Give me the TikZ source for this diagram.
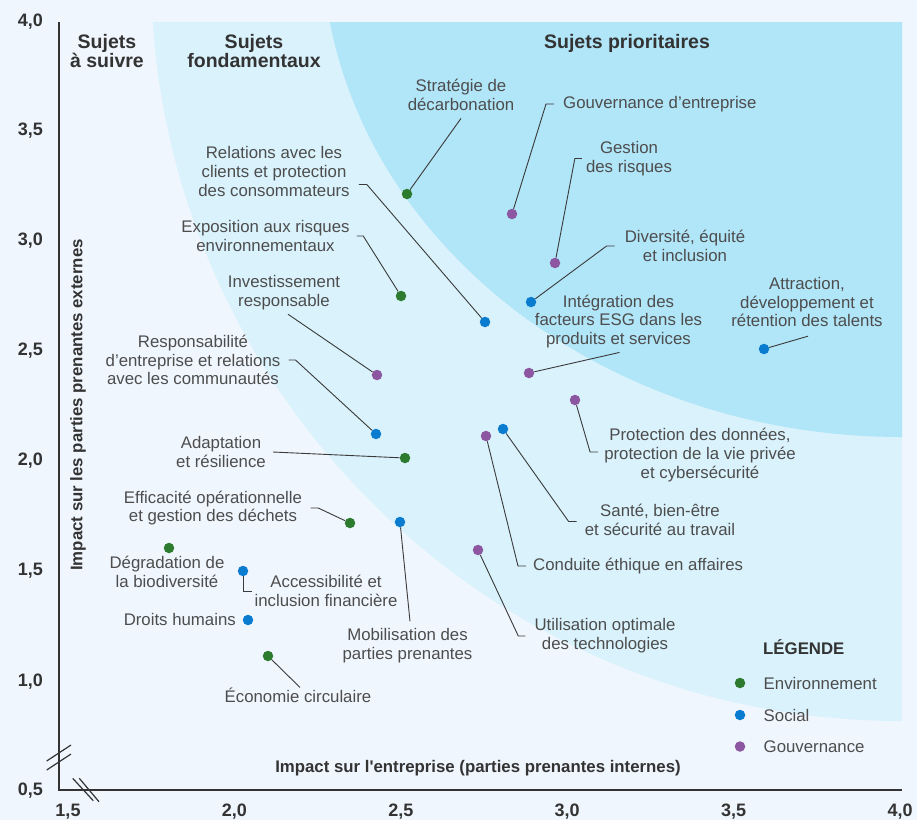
\documentclass[tikz,border=0pt]{standalone}
\usepackage{fontspec}
\setmainfont{Liberation Sans}

\definecolor{bgpaper}{HTML}{F0F6FE}
\definecolor{bandlight}{HTML}{D9F2FC}
\definecolor{banddark}{HTML}{B1E5F8}
\definecolor{envgreen}{HTML}{2D7B2F}
\definecolor{socblue}{HTML}{0A7CCF}
\definecolor{govpurple}{HTML}{8C57A0}
\definecolor{txtgray}{HTML}{4D4D4D}
\definecolor{headgray}{HTML}{333333}
\definecolor{linegray}{HTML}{3A3A3A}

\newcommand{\topicfont}{\fontsize{16.8}{18.8}\selectfont}
\newcommand{\headfont}{\bfseries\fontsize{19.5}{19.5}\selectfont}
\newcommand{\tickfont}{\bfseries\fontsize{18}{18}\selectfont}
\newcommand{\axtitlefont}{\bfseries\fontsize{16.8}{16.8}\selectfont}

\tikzset{
	topicdot/.style={circle, fill=#1, inner sep=0pt, minimum size=10.5pt},
	topic/.style={font=\topicfont, text=txtgray, align=center, inner sep=0pt},
	leader/.style={draw=linegray, line width=0.9pt},
	heading/.style={font=\headfont, text=headgray, align=center, inner sep=0pt},
	ticklabel/.style={font=\tickfont, text=headgray, inner sep=0pt},
	axtitle/.style={font=\axtitlefont, text=headgray, inner sep=0pt},
	axisline/.style={draw=headgray, line width=1.2pt},
}

\begin{document}
\begin{tikzpicture}[x=1pt, y=-1pt]
	\useasboundingbox (0,0) rectangle (917,820);
	\fill[bgpaper] (0,0) rectangle (917,820);
	
	% zones
	\begin{scope}
		\clip (59,22) rectangle (902,790);
		\fill[bandlight] (901,-29) circle[radius=750];
		\fill[banddark] (902,-60) ellipse[x radius=580, y radius=497];
	\end{scope}
	
	\node[heading] (suivre) at (107,51) {Sujets\\à suivre};
	\node[heading] (fondam) at (254,51) {Sujets\\fondamentaux};
	\node[heading] (priorit) at (627,43) {Sujets prioritaires};
	
	% axes
	\draw[axisline] (59,22) -- (59,790) -- (902,790);
	\draw[axisline] (46.7,761) -- (71,745);
	\draw[axisline] (46.7,770) -- (71,754);
	\draw[axisline] (72.7,778.3) -- (93.3,800.7);
	\draw[axisline] (79.3,778.3) -- (99,801.7);
	
	\foreach \a/\b/\y in {4/0/22, 3/5/131, 3/0/241, 2/5/351, 2/0/461, 1/5/571, 1/0/682, 0/5/791}
		\node[ticklabel, anchor=east] at (43,\y) {\a,\b};
	\foreach \a/\b/\x in {1/5/68, 2/0/234.4, 2/5/400.8, 3/0/567.2, 3/5/733.6, 4/0/900}
		\node[ticklabel, anchor=base] at (\x,816) {\a,\b};
	
	\node[axtitle] (xtitle) at (478,768) {Impact sur l\textquotesingle entreprise (parties prenantes internes)};
	\node[axtitle, rotate=90] (ytitle) at (78,405) {Impact sur les parties prenantes externes};
	
	% sujets
	\node[topicdot=envgreen] (strat) at (407,194) {};
	\node[topic] (stratlab) at (461,94.5) {Stratégie de\\décarbonation};
	\draw[leader] (strat) -- ([yshift=-8pt]stratlab.south);
	
	\node[topicdot=govpurple] (gouv) at (512,214) {};
	\node[topic, anchor=west] (gouvlab) at (563,104) {Gouvernance d’entreprise};
	\draw[leader] (gouv) -- ([xshift=-17pt]gouvlab.west) -- ([xshift=-9pt]gouvlab.west);
	
	\node[topicdot=govpurple] (risq) at (555,263) {};
	\node[topic] (risqlab) at (629,158.5) {Gestion\\des risques};
	\draw[leader] (risq) -- ([xshift=-11pt]risqlab.west) -- ([xshift=-4pt]risqlab.west);
	
	\node[topicdot=socblue] (divers) at (531,302) {};
	\node[topic] (diverslab) at (685,246) {Diversité, équité\\et inclusion};
	\draw[leader] (divers) -- ([xshift=-18pt]diverslab.west) -- ([xshift=-10pt]diverslab.west);
	
	\node[topicdot=govpurple] (integ) at (529,373) {};
	\node[topic] (integlab) at (618.5,321.5) {Intégration des\\facteurs ESG dans les\\produits et services};
	\draw[leader] (integ) -- ([xshift=1pt, yshift=-4pt]integlab.south);
	
	\node[topicdot=socblue] (talent) at (764,349) {};
	\node[topic] (talentlab) at (807,302) {Attraction,\\développement et\\rétention des talents};
	\draw[leader] (talent) -- ([xshift=1pt, yshift=-9pt]talentlab.south);
	
	\node[topicdot=govpurple] (donnee) at (575,400) {};
	\node[topic] (donneelab) at (700,455) {Protection des données,\\protection de la vie privée\\et cybersécurité};
	\draw[leader] (donnee) -- ([xshift=-14pt, yshift=3pt]donneelab.west) -- ([xshift=-6pt, yshift=3pt]donneelab.west);
	
	\node[topicdot=socblue] (sante) at (503,429) {};
	\node[topic] (santelab) at (660,519.5) {Santé, bien-être\\et sécurité au travail};
	\draw[leader] (sante) -- ([xshift=-16pt, yshift=-2pt]santelab.west) -- ([xshift=-8pt, yshift=-2pt]santelab.west);
	
	\node[topicdot=govpurple] (ethiq) at (486,436) {};
	\node[topic, anchor=west] (ethiqlab) at (533,566) {Conduite éthique en affaires};
	\draw[leader] (ethiq) -- ([xshift=-15pt]ethiqlab.west) -- ([xshift=-7pt]ethiqlab.west);
	
	\node[topicdot=govpurple] (techno) at (478,550) {};
	\node[topic] (technolab) at (605,636) {Utilisation optimale\\des technologies};
	\draw[leader] (techno) -- ([xshift=-16pt]technolab.west) -- ([xshift=-9pt]technolab.west);
	
	\node[topicdot=socblue] (client) at (485,322) {};
	\node[topic] (clientlab) at (274,171.5) {Relations avec les\\clients et protection\\des consommateurs};
	\draw[leader] (client) -- ([xshift=17pt, yshift=-13pt]clientlab.east) -- ([xshift=9pt, yshift=-13pt]clientlab.east);
	
	\node[topicdot=envgreen] (expo) at (401,296) {};
	\node[topic] (expolab) at (265.5,236) {Exposition aux risques\\environnementaux};
	\draw[leader] (expo) -- ([xshift=13.5pt]expolab.east) -- ([xshift=7pt]expolab.east);
	
	\node[topicdot=govpurple] (invest) at (377,375) {};
	\node[topic] (investlab) at (284,292.8) {Investissement\\responsable};
	\draw[leader] (invest) -- ([xshift=4pt, yshift=-4pt]investlab.south);
	
	\node[topicdot=socblue] (commu) at (376,434) {};
	\node[topic] (commulab) at (193,360) {Responsabilité\\d’entreprise et relations\\avec les communautés};
	\draw[leader] (commu) -- ([xshift=15pt]commulab.east) -- ([xshift=8pt]commulab.east);
	
	\node[topicdot=envgreen] (adapt) at (405,458) {};
	\node[topic] (adaptlab) at (221,452) {Adaptation\\et résilience};
	\draw[leader] (adapt) -- ([xshift=7pt]adaptlab.east);
	
	\node[topicdot=envgreen] (effic) at (350,523) {};
	\node[topic] (efficlab) at (213,508) {Efficacité opérationnelle\\et gestion des déchets};
	\draw[leader] (effic) -- ([xshift=16pt]efficlab.east) -- ([xshift=8.5pt]efficlab.east);
	
	\node[topicdot=envgreen] (biodiv) at (169,548) {};
	\node[topic] (biodivlab) at (167,571.7) {Dégradation de\\la biodiversité};
	
	\node[topicdot=socblue] (acces) at (243,571) {};
	\node[topic] (acceslab) at (326,591) {Accessibilité et\\inclusion financière};
	\draw[leader] (acces) |- ([xshift=-2pt]acceslab.west);
	
	\node[topicdot=socblue] (droits) at (248,620) {};
	\node[topic, anchor=east] (droitslab) at (236,619.5) {Droits humains};
	
	\node[topicdot=socblue] (mobil) at (400,522) {};
	\node[topic] (mobillab) at (407.5,645.3) {Mobilisation des\\parties prenantes};
	\draw[leader] (mobil) -- ([xshift=2.5pt, yshift=6.5pt]mobillab.north);
	
	\node[topicdot=envgreen] (econ) at (268,656) {};
	\node[topic] (econlab) at (298,695) {Économie circulaire};
	\draw[leader] (econ) -- ([xshift=2pt]econlab.north);
	
	% legende
	\node[axtitle, anchor=west] (legtitle) at (763,647) {LÉGENDE};
	\node[topicdot=envgreen] (legenv) at (740,683) {};
	\node[topic, anchor=west] (legenvlab) at (763.5,683.5) {Environnement};
	\node[topicdot=socblue] (legsoc) at (740,715) {};
	\node[topic, anchor=west] (legsoclab) at (763.5,715) {Social};
	\node[topicdot=govpurple] (leggov) at (740,746.5) {};
	\node[topic, anchor=west] (leggovlab) at (763.5,746.5) {Gouvernance};
\end{tikzpicture}
\end{document}
